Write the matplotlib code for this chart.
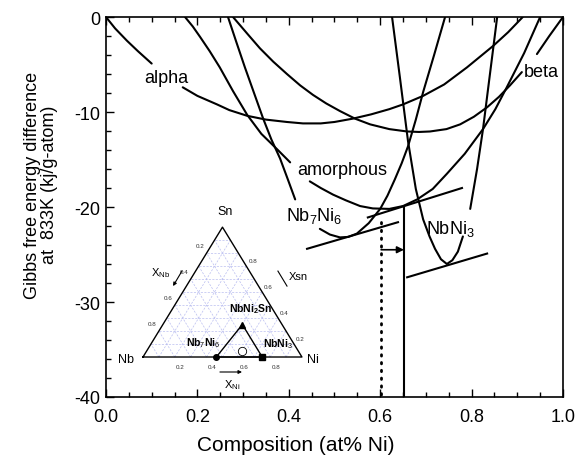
import numpy as np
import matplotlib
matplotlib.use("Agg")
import matplotlib.pyplot as plt

plt.rcParams['font.family'] = ['Liberation Sans', 'DejaVu Sans']
plt.rcParams['mathtext.fontset'] = 'custom'
plt.rcParams['mathtext.rm'] = 'Liberation Sans'
plt.rcParams['mathtext.bf'] = 'Liberation Sans:bold'
plt.rcParams['axes.unicode_minus'] = False

nan = np.nan

# free energy curves: x = at% Ni, G in kJ/g-atom (nan = gap under a label)
alpha_x = [0.0, 0.02, 0.046, 0.07, 0.10, nan, 0.168, 0.20, 0.243, 0.27, 0.309, 0.35, 0.396, 0.431,
           0.47, 0.50, 0.540, 0.58, 0.62, 0.650, 0.694, 0.74, 0.79, 0.847, 0.88, 0.912]
alpha_g = [0.0, -1.2, -2.5, -3.6, -4.9, nan, -7.4, -8.3, -9.2, -9.8, -10.4, -10.8, -11.05, -11.2,
           -11.2, -11.05, -10.7, -10.25, -9.7, -9.2, -8.3, -7.1, -5.3, -3.05, -1.6, 0.0]

amor_x = [0.173, 0.19, 0.206, 0.227, 0.249, 0.278, 0.309, 0.34, 0.374, 0.403, nan, 0.446, 0.47, 0.497,
          0.525, 0.556, 0.584, 0.620, 0.650, 0.681, 0.715, 0.746, 0.785, 0.825, 0.852, 0.877, 0.915, 0.950]
amor_g = [0.0, -1.0, -2.1, -3.6, -5.3, -7.8, -10.3, -12.3, -13.9, -15.3, nan, -17.3, -18.0, -18.7,
          -19.3, -19.9, -20.15, -20.2, -19.9, -19.2, -18.1, -16.5, -14.4, -11.8, -9.7, -7.4, -3.8, 0.0]

beta_x = [0.278, 0.31, 0.337, 0.366, 0.396, 0.425, 0.453, 0.482, 0.512, 0.545, 0.578, 0.62, 0.659,
          0.685, 0.709, 0.745, 0.775, 0.805, 0.834, 0.86, 0.884, 0.91, nan, 0.943, 0.97, 1.0]
beta_g = [0.0, -1.8, -3.3, -4.7, -6.0, -7.2, -8.2, -9.1, -9.9, -10.7, -11.3, -11.8, -12.05,
          -12.1, -12.05, -11.8, -11.3, -10.5, -9.5, -8.4, -7.2, -5.8, nan, -3.9, -2.0, 0.0]

nb7_x = [0.267, 0.285, 0.304, 0.324, 0.344, 0.362, 0.381, 0.398, 0.414, nan, 0.468, 0.49, 0.512, 0.53,
         0.549, 0.575, 0.600, 0.616, 0.632, 0.647, 0.661, 0.678, 0.694, 0.718, 0.742]
nb7_g = [0.0, -2.6, -5.3, -8.0, -10.7, -12.9, -14.9, -17.1, -19.2, nan, -22.3, -22.9, -23.2, -23.15,
         -22.8, -21.7, -20.2, -18.8, -17.1, -15.4, -13.6, -10.8, -7.9, -4.0, 0.0]

nbni3_x = [0.626, 0.643, 0.661, 0.678, 0.694, 0.708, 0.720, 0.733, 0.746, 0.758, 0.770, 0.781, nan,
           0.797, 0.812, 0.825, 0.836, 0.846, 0.856]
nbni3_g = [0.0, -6.3, -13.1, -18.1, -21.3, -23.1, -24.4, -25.5, -26.0, -25.6, -24.7, -23.1, nan,
           -20.2, -16.0, -11.8, -7.6, -3.8, 0.0]

# common tangent segments
tangent_upper = ([0.573, 0.779], [-21.1, -18.0])
tangent_nb7 = ([0.440, 0.639], [-24.4, -21.6])
tangent_nbni3 = ([0.659, 0.834], [-27.4, -24.9])

x_solid, g_solid_top = 0.652, -20.0
x_dotted, g_dotted_top = 0.602, -21.6
g_arrow = -24.5

# curve labels
labels = ["alpha", "amorphous", "beta", r"Nb$_7$Ni$_6$", r"NbNi$_3$"]
label_x = [0.131, 0.516, 0.952, 0.455, 0.753]
label_g = [-6.4, -16.1, -5.7, -20.8, -22.2]

# ternary inset: compositions as (x_Ni, x_Sn)
phase_names = [r"Nb$_7$Ni$_6$", r"NbNi$_3$", r"NbNi$_\mathbf{2}$Sn"]
phase_ni = [6 / 13, 0.75, 0.5]
phase_sn = [0.0, 0.0, 0.25]
alloy_ni, alloy_sn = 0.6, 0.05
edge_ticks = [0.2, 0.4, 0.6, 0.8]


def tern(x_ni, x_sn):
    x_ni = np.asarray(x_ni, dtype=float)
    x_sn = np.asarray(x_sn, dtype=float)
    return x_ni + 0.5 * x_sn, np.sqrt(3) / 2 * x_sn


fig = plt.figure(figsize=(5.75, 4.56), dpi=100)
ax = fig.add_axes([0.1843, 0.1272, 0.7948, 0.8333])

lw = 1.5
for xs, gs in [(alpha_x, alpha_g), (amor_x, amor_g), (beta_x, beta_g), (nb7_x, nb7_g), (nbni3_x, nbni3_g)]:
    ax.plot(xs, gs, color='k', lw=lw, solid_capstyle='round', solid_joinstyle='round')
for xs, gs in [tangent_upper, tangent_nb7, tangent_nbni3]:
    ax.plot(xs, gs, color='k', lw=lw)

ax.plot([x_solid, x_solid], [g_solid_top, -40], color='k', lw=lw)
ax.plot([x_dotted, x_dotted], [g_dotted_top, -40], color='k', lw=2.0,
        linestyle=(0, (0.5, 2.3)), dash_capstyle='round')
ax.annotate('', xy=(x_solid, g_arrow), xytext=(x_dotted, g_arrow),
            arrowprops=dict(arrowstyle='-|>', color='k', lw=1.2, mutation_scale=10,
                            shrinkA=0, shrinkB=0))

for t, lx, lg in zip(labels, label_x, label_g):
    ax.text(lx, lg, t, fontsize=13, ha='center', va='center')

ax.set_xlim(0, 1)
ax.set_ylim(-40, 0)
ax.set_xticks(np.arange(0, 1.01, 0.2))
ax.set_xticks(np.arange(0, 1.01, 0.05), minor=True)
ax.set_yticks(np.arange(-40, 1, 10))
ax.set_yticks(np.arange(-40, 1, 2), minor=True)
ax.set_xticklabels(["%.1f" % v for v in np.arange(0, 1.01, 0.2)])
ax.tick_params(which='both', direction='in', top=True, right=False, labelsize=13, width=1)
ax.tick_params(which='major', length=6)
ax.tick_params(which='minor', length=3.5)
ax.tick_params(axis='x', pad=8)
ax.tick_params(axis='y', pad=4)
for s in ax.spines.values():
    s.set_linewidth(1.2)

ax.set_xlabel("Composition (at% Ni)", fontsize=15)
ax.xaxis.label.set_va('center')
ax.xaxis.set_label_coords(0.416, -0.124)
ax.set_ylabel("Gibbs free energy difference\nat  833K (kj/g-atom)", fontsize=13, linespacing=1.0)
ax.yaxis.label.set_va('center')
ax.yaxis.set_label_coords(-0.142, 0.56)

# ternary inset
tx = fig.add_axes([0.1934, 0.1327, 0.387, 0.411])
tx.set_xlim(-0.2, 1.2)
tx.set_ylim(-0.25, 1.0)
tx.axis('off')
tx.patch.set_alpha(0)

grid_c = '#b9bdf0'
for k in np.arange(0.1, 0.95, 0.1):
    for a, b in [((0, k), (1 - k, k)), ((k, 0), (k, 1 - k)), ((1 - k, 0), (0, 1 - k))]:
        px, py = tern([a[0], b[0]], [a[1], b[1]])
        tx.plot(px, py, color=grid_c, lw=0.5, linestyle=(0, (3, 2)))

ox, oy = tern([0, 1, 0, 0], [0, 0, 1, 0])
tx.plot(ox, oy, color='k', lw=1.0)

# sub-triangle of the phases
sx, sy = tern(phase_ni + [phase_ni[0]], phase_sn + [phase_sn[0]])
tx.plot(sx, sy, color='k', lw=1.0)
mx, my = tern(phase_ni, phase_sn)
tx.plot(mx[0], my[0], 'o', color='k', ms=4)
tx.plot(mx[1], my[1], 's', color='k', ms=5)
tx.plot(mx[2], my[2], '^', color='k', ms=5)
ax_, ay_ = tern(alloy_ni, alloy_sn)
tx.plot(ax_, ay_, 'o', mfc='white', mec='k', ms=6, mew=0.6)

name_pos = [(0.377, 0.10), (0.85, 0.093), (0.68, 0.327)]
for n, (px, py) in zip(phase_names, name_pos):
    tx.text(px, py, n, fontsize=7.5, fontweight='bold', ha='center', va='center')

tx.text(0.516, 0.975, "Sn", fontsize=9, ha='center', va='center')
tx.text(-0.107, -0.013, "Nb", fontsize=9, ha='center', va='center')
tx.text(1.068, -0.013, "Ni", fontsize=9, ha='center', va='center')

for v in edge_ticks:
    bx, by = tern(v, 0)
    tx.text(bx + 0.035, by - 0.06, "%.1f" % v, fontsize=4.5, ha='center', va='center', color='#333333')
    lx, ly = tern(0, 1 - v)
    tx.text(lx - 0.04, ly + 0.05, "%.1f" % v, fontsize=4.5, ha='center', va='center', color='#333333')
    rx, ry = tern(1 - v, v)
    tx.text(rx + 0.09, ry - 0.05, "%.1f" % v, fontsize=4.5, ha='center', va='center', color='#333333')

tx.text(0.113, 0.567, r"X$_{\rm Nb}$", fontsize=8, ha='center', va='center')
tx.annotate('', xy=(0.189, 0.473), xytext=(0.245, 0.573),
            arrowprops=dict(arrowstyle='-|>', color='k', lw=0.8, mutation_scale=5, shrinkA=0, shrinkB=0))
tx.text(0.975, 0.54, "Xsn", fontsize=8, ha='center', va='center')
tx.plot([0.849, 0.906], [0.573, 0.473], color='k', lw=0.8)
tx.text(0.56, -0.178, r"X$_{\rm Ni}$", fontsize=8, ha='center', va='center')
tx.annotate('', xy=(0.623, -0.1), xytext=(0.484, -0.1),
            arrowprops=dict(arrowstyle='-|>', color='k', lw=0.8, mutation_scale=5, shrinkA=0, shrinkB=0))

fig.savefig("out.png", dpi=100)
